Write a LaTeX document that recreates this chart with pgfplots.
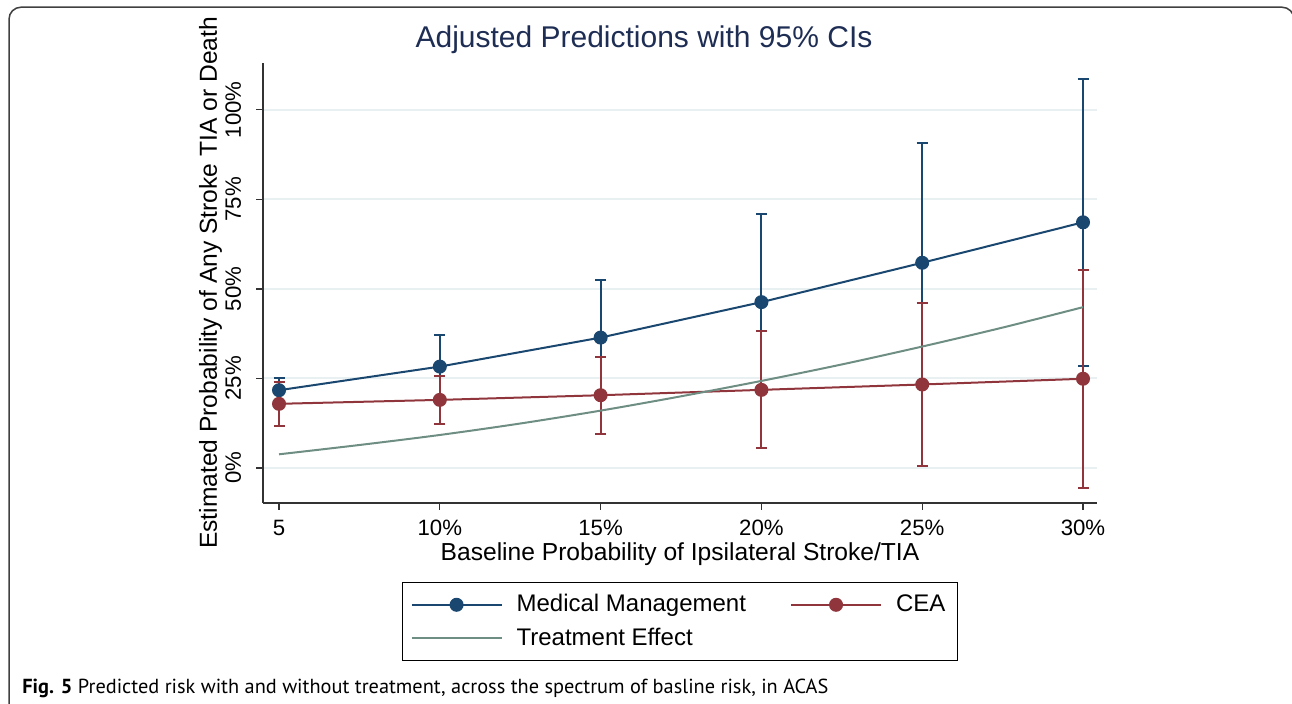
\documentclass[border=0pt]{standalone}
\usepackage{pgfplots}
\pgfplotsset{compat=1.18}
\usepackage{fontspec}
\setmainfont{Liberation Sans}
\newfontfamily\capfont{PT Sans}
\definecolor{sNavy}{RGB}{26,71,111}
\definecolor{sMaroon}{RGB}{144,53,59}
\definecolor{sTeal}{RGB}{110,142,132}
\definecolor{sGrid}{RGB}{232,240,242}
\definecolor{sTitle}{RGB}{30,45,83}
\definecolor{sAxis}{RGB}{50,50,50}

\pgfplotstableread{
x   y     e
5   21.7  3.5
10  28.3  8.7
15  36.4  16.0
20  46.3  24.6
25  57.3  33.5
30  68.6  40.1
}\medtab
\pgfplotstableread{
x   y     e
5   17.9  6.1
10  19.0  6.75
15  20.3  10.7
20  21.8  16.35
25  23.3  22.9
30  24.9  30.4
}\ceatab
\pgfplotstableread{
x     y
5     3.8
7.5   6.4
10    9.2
12.5  12.4
15    16.0
17.5  20.0
20    24.3
22.5  28.9
25    33.9
27.5  39.2
30    44.9
}\efftab

\begin{document}
\begin{tikzpicture}
\useasboundingbox (0,0) rectangle (646pt,-352pt);
\begin{scope}
\clip (0,0) rectangle (646pt,-352pt);
\draw[line width=0.75pt, color=black!75, rounded corners=6pt] (4.5pt,-3.6pt) rectangle (647pt,-420pt);
\end{scope}
\node[anchor=base, text=sTitle, font=\fontsize{15}{18}\selectfont] at (322pt,-23.7pt) {Adjusted Predictions with 95\% CIs};
\begin{axis}[
  at={(131.5pt,-251.5pt)}, anchor=south west,
  scale only axis, width=417pt, height=220pt,
  xmin=4.502, xmax=30.435, ymin=-9.8, ymax=113.1,
  axis lines*=left,
  axis line style={sAxis, line width=0.6pt},
  tick align=outside, major tick length=3.5pt,
  tick style={sAxis, line width=0.6pt},
  xtick={5,10,15,20,25,30},
  xticklabels={5,10\%,15\%,20\%,25\%,30\%},
  ytick={0,25,50,75,100},
  yticklabels={0\%,25\%,50\%,75\%,100\%},
  ymajorgrids, grid style={sGrid, line width=1pt},
  ticklabel style={font=\fontsize{11.1}{13}\selectfont},
  xticklabel style={anchor=base, yshift=-13pt},
  yticklabel style={rotate=90, anchor=base},
  yticklabel shift=7.5pt,
  label style={font=\fontsize{12.3}{14}\selectfont},
  xlabel={Baseline Probability of Ipsilateral Stroke/TIA},
  xlabel style={at={(axis description cs:0.5,-0.1318)}, anchor=base},
  ylabel={Estimated Probability of Any Stroke TIA or Death},
  ylabel style={at={(axis description cs:-0.05516,0.5)}, anchor=base, rotate=0},
  legend columns=2,
  legend cell align=left,
  legend style={at={(0.5,-0.17955)}, anchor=north, draw=black, line width=0.6pt,
    font=\fontsize{12}{14}\selectfont, inner xsep=4pt, inner ysep=4pt, row sep=2.5pt,
    /tikz/every even column/.append style={column sep=20pt}},
  legend image code/.code={\draw[#1, mark repeat=2, mark phase=2] plot coordinates {(0pt,0pt) (22.5pt,0pt) (45pt,0pt)}; \path (50pt,0pt);},
]
\addplot[sNavy, line width=1pt, mark=*, mark size=3pt, mark options={solid, fill=sNavy},
  error bars/.cd, y dir=both, y explicit,
  error bar style={line width=1pt, sNavy},
  error mark options={rotate=90, mark size=2.75pt, line width=1pt, sNavy}]
  table[x=x, y=y, y error=e] {\medtab};
\addlegendentry{Medical Management}
\addplot[sMaroon, line width=1pt, mark=*, mark size=3pt, mark options={solid, fill=sMaroon},
  error bars/.cd, y dir=both, y explicit,
  error bar style={line width=1pt, sMaroon},
  error mark options={rotate=90, mark size=2.75pt, line width=1pt, sMaroon}]
  table[x=x, y=y, y error=e] {\ceatab};
\addlegendentry{CEA}
\addplot[sTeal, line width=1pt, smooth, no markers] table[x=x, y=y] {\efftab};
\addlegendentry{Treatment Effect}
\end{axis}
\node[anchor=base west, inner sep=0pt] at (11pt,-347pt) {\resizebox{403pt}{!}{\capfont\textbf{Fig. 5} Predicted risk with and without treatment, across the spectrum of basline risk, in ACAS}};
\end{tikzpicture}
\end{document}
